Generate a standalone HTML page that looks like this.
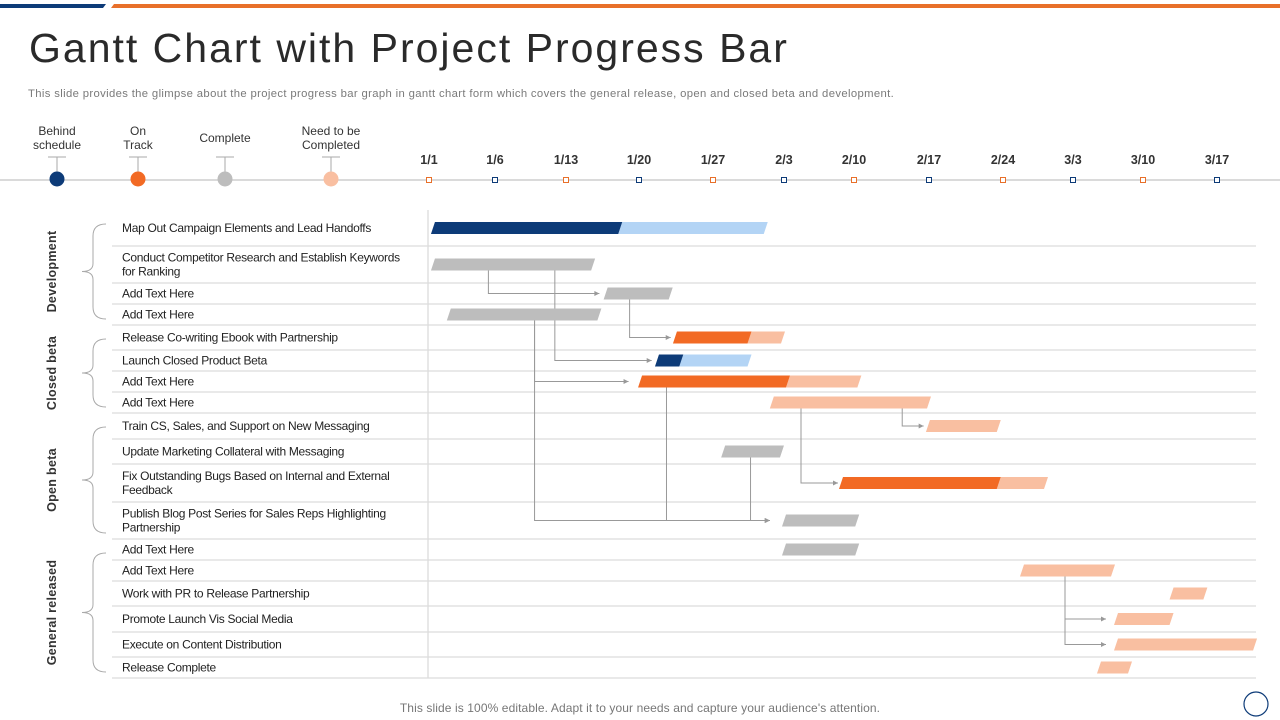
<!DOCTYPE html>
<html><head><meta charset="utf-8">
<style>
html,body{margin:0;padding:0;background:#fff;}
body{width:1280px;height:720px;overflow:hidden;position:relative;font-family:"Liberation Sans",sans-serif;}
svg{position:absolute;left:0;top:0;}
</style></head>
<body>
<svg id="chart" width="1280" height="720" viewBox="0 0 1280 720">
  <polygon points="0,4 106,4 103,8 0,8" fill="#0d3b78"/>
  <polygon points="114,4 1280,4 1280,8 111,8" fill="#e8702a"/>
  <text x="29" y="62" font-size="41" fill="#2a2a2a" font-family="'Liberation Sans',sans-serif" letter-spacing="2">Gantt Chart with Project Progress Bar</text>
  <text x="28" y="97" font-size="11.3" fill="#7a7a7a" letter-spacing="0.35">This slide provides the glimpse about the project progress bar graph in gantt chart form which covers the general release, open and closed beta and development.</text>
  <line x1="0" y1="180" x2="1280" y2="180" stroke="#b5b5b5" stroke-width="1"/>
  <g id="legend"></g>
  <g id="ticks"></g>
  <g id="grid"></g>
  <g id="groups"></g>
  <g id="conns"></g>
  <g id="bars"></g>
  <text x="640" y="712" text-anchor="middle" font-size="12" fill="#777" letter-spacing="0.1">This slide is 100% editable. Adapt it to your needs and capture your audience's attention.</text>
  <circle cx="1256" cy="704" r="12" fill="none" stroke="#0d3b78" stroke-width="1.2"/>
</svg>
<script>
// ---- data ----
const tickLabels = ["1/1","1/6","1/13","1/20","1/27","2/3","2/10","2/17","2/24","3/3","3/10","3/17"];
const tickDays = [0,5,12,19,26,33,40,47,54,61,68,75];
const taskNames = [
 ["Map Out Campaign Elements and Lead Handoffs"],
 ["Conduct Competitor Research and Establish Keywords","for Ranking"],
 ["Add Text Here"],["Add Text Here"],
 ["Release Co-writing Ebook with  Partnership"],
 ["Launch Closed Product Beta"],
 ["Add Text Here"],["Add Text Here"],
 ["Train CS, Sales, and Support on New Messaging"],
 ["Update Marketing Collateral with Messaging"],
 ["Fix Outstanding Bugs Based on Internal and External","Feedback"],
 ["Publish Blog Post Series for Sales Reps Highlighting","Partnership"],
 ["Add Text Here"],["Add Text Here"],
 ["Work with PR to Release Partnership"],
 ["Promote Launch Vis Social Media"],
 ["Execute on Content Distribution"],
 ["Release Complete"]
];
const taskStart = [0.3,0.3,15.8,1.5,22.4,20.7,19.1,31.8,46.9,27,38.7,33,33,55.9,70.7,65.3,65.3,63.6];
const taskProgress = [17.2,14.6,22.0,15.2,29.6,23.0,33.4,31.8,46.9,32.8,53.6,40.3,40.3,55.9,70.7,65.3,65.3,63.6];
const taskEnd = [31.2,14.6,22.0,15.2,32.9,29.6,40.5,47,53.6,32.8,58.3,40.3,40.3,65,73.9,70.7,78.6,66.7];
const taskStatus = ["behind","complete","complete","complete","ontrack","behind","ontrack","todo","todo","complete","ontrack","complete","complete","todo","todo","todo","todo","todo"];
const groupNames = ["Development","Closed beta","Open beta","General released"];
const groupFirstRow = [0,4,8,12];
const groupLastRow = [3,7,11,17];
const connFrom = [1,1,2,3,3,6,9,7,7,13,13];
const connDay = [4.5,10.9,18.1,8.9,8.9,21.6,29.7,34.7,44.5,60.2,60.2];
const connTo = [2,5,4,6,11,11,11,10,8,15,16];
const connToDay = [15.2,20.2,22,18,31.6,31.6,31.6,38.4,46.5,64.3,64.3];
const legendLabels = [["Behind","schedule"],["On","Track"],["Complete"],["Need to be","Completed"]];

// ---- layout ----
const NS="http://www.w3.org/2000/svg";
const tickX=[429,495,566,639,713,784,854,929,1003,1073,1143,1217];
const rowLines=[210,246,283,304,325,350,371,392,413,439,464,502,539,560,581,606,632,657,678];
const colors={behind:["#0d3b78","#b3d4f5"],ontrack:["#f26a24","#f9bfa1"],complete:["#bdbdbd","#bdbdbd"],todo:["#f9bfa1","#f9bfa1"]};
function el(tag,attrs,parent){const e=document.createElementNS(NS,tag);for(const k in attrs)e.setAttribute(k,attrs[k]);parent.appendChild(e);return e;}
function xScale(d){
  let i=0; while(i<tickDays.length-2 && d>tickDays[i+1]) i++;
  const t=(d-tickDays[i])/(tickDays[i+1]-tickDays[i]);
  return tickX[i]+t*(tickX[i+1]-tickX[i]);
}
function yRow(r){return (rowLines[r]+rowLines[r+1])/2;}

// legend
const lg=document.getElementById('legend');
const legX=[57,138,225,331], legC=["#0d3b78","#f26a24","#bdbdbd","#f9bfa1"];
legendLabels.forEach((lab,i)=>{
  const g=el('g',{},lg);
  
  
  lab.forEach((s,j)=>{const t=el('text',{x:legX[i],y:(lab.length===1?142:135)+j*14,'text-anchor':'middle','font-size':'12',fill:'#333'},g);t.textContent=s;});
  el('line',{x1:legX[i]-9,y1:157,x2:legX[i]+9,y2:157,stroke:'#aaa'},g);
  el('line',{x1:legX[i],y1:157,x2:legX[i],y2:172,stroke:'#aaa'},g);
  el('circle',{cx:legX[i],cy:179,r:7.5,fill:legC[i]},g);
});
// ticks
const tk=document.getElementById('ticks');
tickLabels.forEach((s,i)=>{
  const x=xScale(tickDays[i]);
  const t=el('text',{x:x,y:164,'text-anchor':'middle','font-size':'12.5','font-weight':'bold',fill:'#333'},tk);
  
  
  t.textContent=s;
  el('rect',{x:x-2.5,y:177.5,width:5,height:5,fill:'#fff',stroke:i%2?'#0d3b78':'#e8702a','stroke-width':1},tk);
});
// grid + task labels
const gr=document.getElementById('grid');
for(let i=1;i<rowLines.length;i++) el('line',{x1:112,y1:rowLines[i],x2:1256,y2:rowLines[i],stroke:'#dcdcdc','stroke-width':1.3},gr);
el('line',{x1:428,y1:210,x2:428,y2:678,stroke:'#dcdcdc','stroke-width':1.3},gr);
taskNames.forEach((lines,r)=>{
  const cy=yRow(r);
  lines.forEach((s,j)=>{
    const t=el('text',{x:122,y:cy+4+(j-(lines.length-1)/2)*14,'font-size':'12',fill:'#222','letter-spacing':'-0.3'},gr);
    
    
    t.textContent=s;
  });
});
// groups
const gp=document.getElementById('groups');
groupNames.forEach((n,i)=>{
  const y1=rowLines[groupFirstRow[i]]+14, y2=rowLines[groupLastRow[i]+1]-6, ym=(y1+y2)/2;
  el('path',{d:`M106 ${y1} Q93 ${y1} 93 ${y1+12} L93 ${ym-8} Q93 ${ym} 82 ${ym} Q93 ${ym} 93 ${ym+8} L93 ${y2-12} Q93 ${y2} 106 ${y2}`,fill:'none',stroke:'#aaa','stroke-width':1},gp);
  const t=el('text',{x:0,y:0,transform:`translate(56 ${ym}) rotate(-90)`,'text-anchor':'middle','font-size':'12.5','font-weight':'bold',fill:'#333','letter-spacing':'0.3'},gp);
  
  
  t.textContent=n;
});
// connectors
const cn=document.getElementById('conns');
connFrom.forEach((f,i)=>{
  const x=xScale(connDay[i]), y0=yRow(f)+6, y1=yRow(connTo[i]), x2=xScale(connToDay[i]);
  el('polyline',{points:`${x},${y0} ${x},${y1} ${x2},${y1}`,fill:'none',stroke:'#999','stroke-width':1},cn);
  el('polygon',{points:`${x2},${y1} ${x2-5},${y1-2.5} ${x2-5},${y1+2.5}`,fill:'#999'},cn);
});
// bars
const bs=document.getElementById('bars');
taskStart.forEach((s,r)=>{
  const cy=yRow(r), h=12, sk=2;
  const xs=xScale(s), xp=xScale(taskProgress[r]), xe=xScale(taskEnd[r]);
  const c=colors[taskStatus[r]];
  const g=el('g',{},bs);
  
  
  if(xe>xp) el('polygon',{points:`${xp+sk},${cy-h/2} ${xe+sk},${cy-h/2} ${xe-sk},${cy+h/2} ${xp-sk},${cy+h/2}`,fill:c[1]},g);
  if(xp>xs) el('polygon',{points:`${xs+sk},${cy-h/2} ${xp+sk},${cy-h/2} ${xp-sk},${cy+h/2} ${xs-sk},${cy+h/2}`,fill:c[0]},g);
});
</script>
</body></html>
